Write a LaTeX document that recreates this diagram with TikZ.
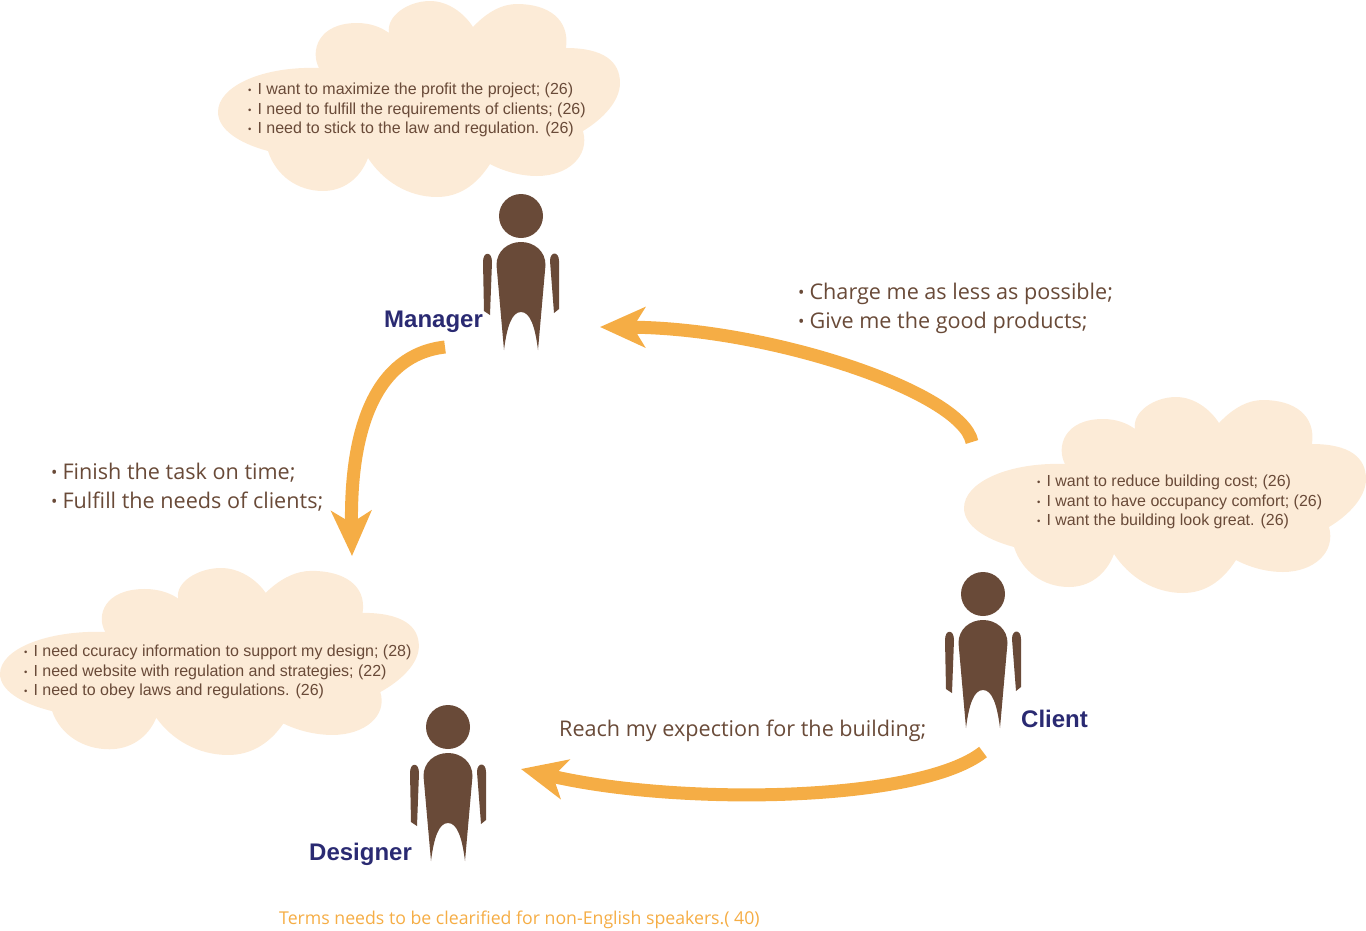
\documentclass[tikz,border=0pt]{standalone}
\usepackage{fontspec}
\setmainfont{Liberation Sans}
\newfontfamily\speechfont{Open Sans}
\usetikzlibrary{arrows.meta,positioning}

\definecolor{cloudfill}{HTML}{FCEBD7}
\definecolor{figbrown}{HTML}{694A38}
\definecolor{arroworange}{HTML}{F5AD45}
\definecolor{rolenavy}{HTML}{2A2A72}

\newcommand{\cloudbul}{\raisebox{1pt}{\fontsize{9.5}{9.5}\selectfont •}\hspace{6pt}}
\newcommand{\speechbul}{\raisebox{1pt}{\fontsize{17}{17}\selectfont •}\hspace{5pt}}

\tikzset{
    cloudtext/.style={anchor=west,inner sep=0pt,align=left,text=figbrown,font=\fontsize{16}{19.5}\selectfont},
    speechtext/.style={anchor=west,inner sep=0pt,align=left,text=figbrown,font=\speechfont\fontsize{21.6}{29}\selectfont},
    rolelabel/.style={anchor=base west,inner sep=0pt,text=rolenavy,font=\bfseries\fontsize{24}{24}\selectfont},
    flowarrow/.style={draw=arroworange,line width=13pt,-{Stealth[length=45pt,width=40pt,inset=12pt]}},
    cloudshape/.pic={
        \fill[cloudfill] (101,67) .. controls (92,50) and (100,22) .. (139,22)
            .. controls (152,22) and (163,26) .. (171,32)
            .. controls (168,15) and (190,0) .. (212,0)
            .. controls (230,0) and (246,12) .. (255,26)
            .. controls (270,10) and (285,3) .. (299,3)
            .. controls (330,3) and (352,18) .. (348,47)
            .. controls (385,47) and (402,60) .. (402,82)
            .. controls (402,100) and (385,118) .. (365,130)
            .. controls (372,155) and (350,175) .. (319,175)
            .. controls (302,175) and (285,170) .. (272,163)
            .. controls (258,185) and (240,196) .. (219,196)
            .. controls (190,196) and (165,180) .. (150,157)
            .. controls (142,178) and (125,190) .. (105,190)
            .. controls (80,190) and (58,175) .. (50,150)
            .. controls (20,142) and (0,128) .. (0,111)
            .. controls (0,85) and (45,65) .. (101,67) -- cycle;
    },
    person/.pic={
        \fill[figbrown] (0,0) circle (22);
        % body with the arch between the legs
        \fill[figbrown] (-24.5,49) .. controls (-24.5,35) and (-13,26) .. (0,26)
            .. controls (13,26) and (24.5,35) .. (24.5,49)
            -- (17,134) .. controls (14,110) and (9,96) .. (0,96)
            .. controls (-9,96) and (-14,110) .. (-17,134) -- cycle;
        % arms
        \fill[figbrown] (-38,46) .. controls (-38,35) and (-29,35) .. (-29,46)
            -- (-31,99) -- (-37,95) -- cycle;
        \fill[figbrown] (29,45) .. controls (29,35) and (38,35) .. (38,45)
            -- (38,93) -- (33,97) -- cycle;
    }
}

\begin{document}
\begin{tikzpicture}[x=1pt,y=-1pt]
    \useasboundingbox (0,0) rectangle (1366,930);

    % clouds
    \pic at (218,1) {cloudshape};
    \pic at (964,397) {cloudshape};
    \pic[xscale=1.042,yscale=0.954] at (0,568) {cloudshape};

    % people
    \pic at (521,216) {person};
    \pic at (983,594) {person};
    \pic at (448,727) {person};

    \node[cloudtext] (managercloud) at (248,110) {\cloudbul I want to maximize the profit the project; (26)\\\cloudbul I need to fulfill the requirements of clients; (26)\\\cloudbul I need to stick to the law and regulation. (26)};
    \node[cloudtext] (clientcloud) at (1037,502) {\cloudbul I want to reduce building cost; (26)\\\cloudbul I want to have occupancy comfort; (26)\\\cloudbul I want the building look great. (26)};
    \node[cloudtext] (designercloud) at (24,672) {\cloudbul I need ccuracy information to support my design; (28)\\\cloudbul I need website with regulation and strategies; (22)\\\cloudbul I need to obey laws and regulations. (26)};

    \node[rolelabel] (managerlabel) at (384,327) {Manager};
    \node[rolelabel] (clientlabel) at (1021,727) {Client};
    \node[rolelabel] (designerlabel) at (309,860) {Designer};

    \node[speechtext] (chargetext) at (798,308) {\speechbul Charge me as less as possible;\\\speechbul Give me the good products;};
    \node[speechtext] (finishtext) at (51,487) {\speechbul Finish the task on time;\\\speechbul Fulfill the needs of clients;};
    \node[speechtext] (reachtext) at (559,731) {Reach my expection for the building;};
    \node[anchor=west,inner sep=0pt,text=arroworange,font=\speechfont\fontsize{17.7}{22}\selectfont] (termstext) at (279,920) {Terms needs to be clearified for non-English speakers.( 40)};

    % arrows between the people
    \coordinate (managerout) at (445,347);
    \coordinate (designerin) at (352,556);
    \coordinate (clientup) at (972,442);
    \coordinate (managerin) at (600,327);
    \coordinate (clientdown) at (983,752);
    \coordinate (designerside) at (521,769);

    \draw[flowarrow] (managerout) .. controls (375,355) and (350,430) .. (designerin);
    \draw[flowarrow] (clientup) .. controls (962,392) and (770,328) .. (managerin);
    \draw[flowarrow] (clientdown) .. controls (920,802) and (680,806) .. (designerside);
\end{tikzpicture}
\end{document}
